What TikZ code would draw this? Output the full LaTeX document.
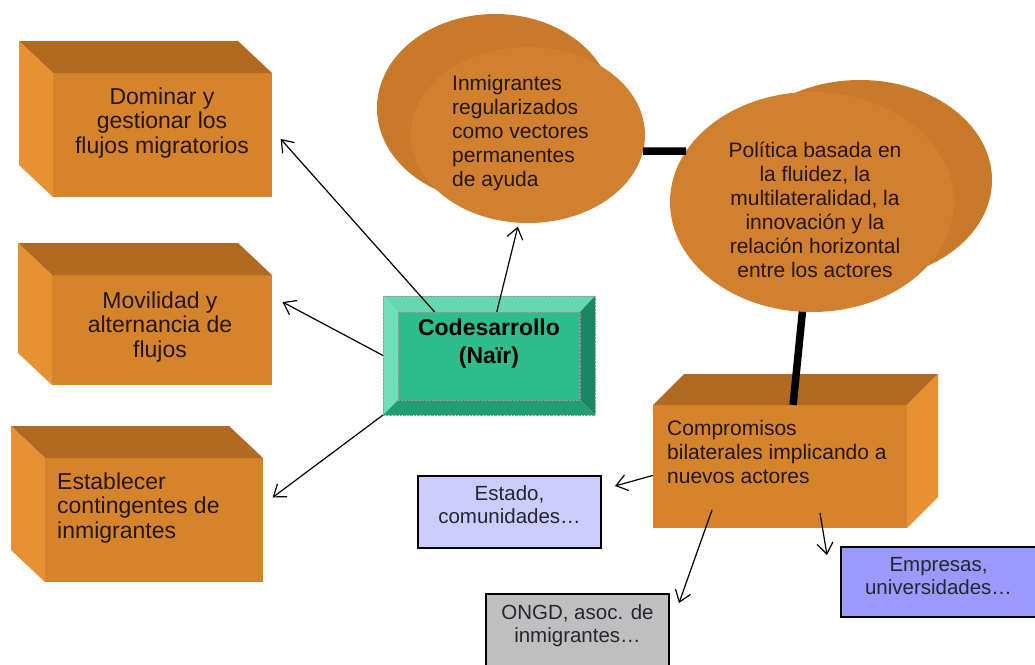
\documentclass[tikz,border=0pt]{standalone}
\usepackage{fontspec}
\setmainfont{Liberation Sans}
\usepackage{xcolor}
\definecolor{boxfront}{RGB}{214,132,44}
\definecolor{boxtop}{RGB}{178,106,34}
\definecolor{boxside}{RGB}{230,146,52}
\definecolor{ovalfront}{RGB}{208,128,46}
\definecolor{ovalback}{RGB}{200,122,42}
\definecolor{codface}{RGB}{46,190,142}
\definecolor{codlight}{RGB}{100,216,176}
\definecolor{codside}{RGB}{112,222,184}
\definecolor{coddark}{RGB}{26,136,100}
\definecolor{codmid}{RGB}{34,158,116}
\definecolor{lilac}{RGB}{204,204,255}
\definecolor{periwinkle}{RGB}{153,153,255}
\definecolor{txtbrown}{RGB}{38,22,8}
\definecolor{txtgray}{RGB}{38,38,48}
\usepackage{tikz}
\usetikzlibrary{positioning,arrows.meta,shapes.geometric,calc}
\tikzset{
  obox/.style ={rectangle, fill=boxfront, inner sep=0pt, outer sep=0pt},
  otop/.style ={fill=boxtop},
  oside/.style={fill=boxside},
  oval/.style ={ellipse, inner sep=0pt, outer sep=0pt},
  otxt/.style ={font=\fontsize{21}{24}\selectfont, text=txtbrown, inner sep=0pt, align=center},
  lbig/.style ={font=\fontsize{23}{24.5}\selectfont},
  cframe/.style={rectangle, inner sep=0pt, outer sep=0pt},
  cface/.style={rectangle, fill=codface, draw=black!40, densely dotted, inner sep=0pt, outer sep=0pt},
  cdots/.style={draw=black!40, densely dotted},
  ctxt/.style ={font=\bfseries\fontsize{23}{28}\selectfont, align=center, inner sep=0pt},
  pbox/.style ={rectangle, draw=black, line width=2pt, align=center, inner sep=2pt, outer sep=0pt,
                font=\fontsize{20.5}{23}\selectfont, text=txtgray},
  arr/.style  ={-{Straight Barb[length=11pt,width=16pt]}, line width=1.2pt},
  link/.style ={line width=7.5pt},
}

\begin{document}
\begin{tikzpicture}[x=1pt, y=-1pt]
  \path[use as bounding box, fill=white] (0,0) rectangle (1035,664);

  \node[obox, minimum width=219, minimum height=124] (dom) at (162.5,135) {};
  \node[obox, minimum width=220, minimum height=110] (mov) at (162,330) {};
  \node[obox, minimum width=218, minimum height=124] (est) at (154,520) {};
  \foreach \b in {dom,mov,est}{
    \fill[otop] (\b.north west) -- ++(-34,-32) -- ($(\b.north east)+(-34,-32)$) -- (\b.north east) -- cycle;
    \fill[oside] (\b.north west) -- ++(-34,-32) -- ($(\b.south west)+(-34,-32)$) -- (\b.south west) -- cycle;
  }
  \node[otxt, lbig] (domtxt) at (162,123) {Dominar y\\gestionar los\\flujos migratorios};
  \node[otxt, lbig] (movtxt) at (160,327) {Movilidad y\\alternancia de\\flujos};
  \node[otxt, lbig, align=left, anchor=west] (esttxt) at (57,508) {Establecer\\contingentes de\\inmigrantes};

  \node[obox, minimum width=254, minimum height=123] (com) at (780,466.5) {};
  \fill[otop] (com.north west) -- ++(31,-31) -- ($(com.north east)+(31,-31)$) -- (com.north east) -- cycle;
  \fill[oside] (com.north east) -- ++(31,-31) -- ($(com.south east)+(31,-31)$) -- (com.south east) -- cycle;
  \node[otxt, align=left, anchor=west] (comtxt) at (667,452) {Compromisos\\bilaterales implicando a\\nuevos actores};

  \node[oval, fill=ovalback, minimum width=236, minimum height=188] (inmb) at (495,108) {};
  \node[oval, fill=ovalfront, minimum width=234, minimum height=176] (inm) at (528,135) {};
  \node[otxt, align=left, anchor=west] (inmtxt) at (452,133) {Inmigrantes\\regularizados\\como vectores\\permanentes\\de ayuda};
  \node[oval, fill=ovalback, minimum width=264, minimum height=200] (polb) at (860,180) {};
  \node[oval, fill=ovalfront, minimum width=284, minimum height=220] (pol) at (812,202) {};
  \node[otxt] (poltxt) at (815,210) {Política basada en\\la fluidez, la\\multilateralidad, la\\innovación y la\\relación horizontal\\entre los actores};

  \node[cframe, minimum width=212, minimum height=119] (cod) at (489,355.5) {};
  \fill[codlight] (cod.north west) -- (cod.north east) -- ++(-15,16) -- ($(cod.north west)+(15,16)$) -- cycle;
  \fill[codside] (cod.north west) -- ++(15,16) -- ($(cod.south west)+(15,-15)$) -- (cod.south west) -- cycle;
  \fill[coddark] (cod.north east) -- ++(-15,16) -- ($(cod.south east)+(-15,-15)$) -- (cod.south east) -- cycle;
  \fill[codmid] (cod.south west) -- ++(15,-15) -- ($(cod.south east)+(-15,-15)$) -- (cod.south east) -- cycle;
  \node[cface, minimum width=182, minimum height=88] (codf) at (489,356) {};
  \draw[cdots] (cod.north west) rectangle (cod.south east);
  \node[ctxt] (codtxt) at (489,344) {Codesarrollo\\(Naïr)};

  \node[pbox, fill=lilac, minimum width=183, minimum height=72, text depth=14pt] (estado) at (509.5,512) {Estado,\\comunidades…};
  \node[pbox, fill=periwinkle, minimum width=195, minimum height=70, text depth=12pt] (emp) at (938.5,582) {Empresas,\\universidades…};
  \node[pbox, fill=black!25, minimum width=183, minimum height=80, text depth=20pt] (ong) at (577.5,634) {ONGD, asoc. de\\inmigrantes…};

  \draw[arr, shorten >=13pt] (codf.141) -- (dom.3);
  \draw[arr, shorten >=12pt] (cod.west) -- (mov.17);
  \draw[arr, shorten >=12pt] (cod.south west) -- (est.8);
  \draw[arr, shorten >=4pt] (codf.80) -- (inm.264);
  \draw[arr] (com.184) -- ($(estado.east)+(14,-26)$);
  \draw[arr] ($(com.south west)+(59,-18)$) -- ($(ong.north east)+(10,9)$);
  \draw[arr] ($(com.south west)+(167,-15)$) -- ($(emp.north west)+(-14,8)$);
  \draw[link] (inm.-8) -- (pol.158);
  \draw[link] (pol.265) -- (com.78);
\end{tikzpicture}
\end{document}
